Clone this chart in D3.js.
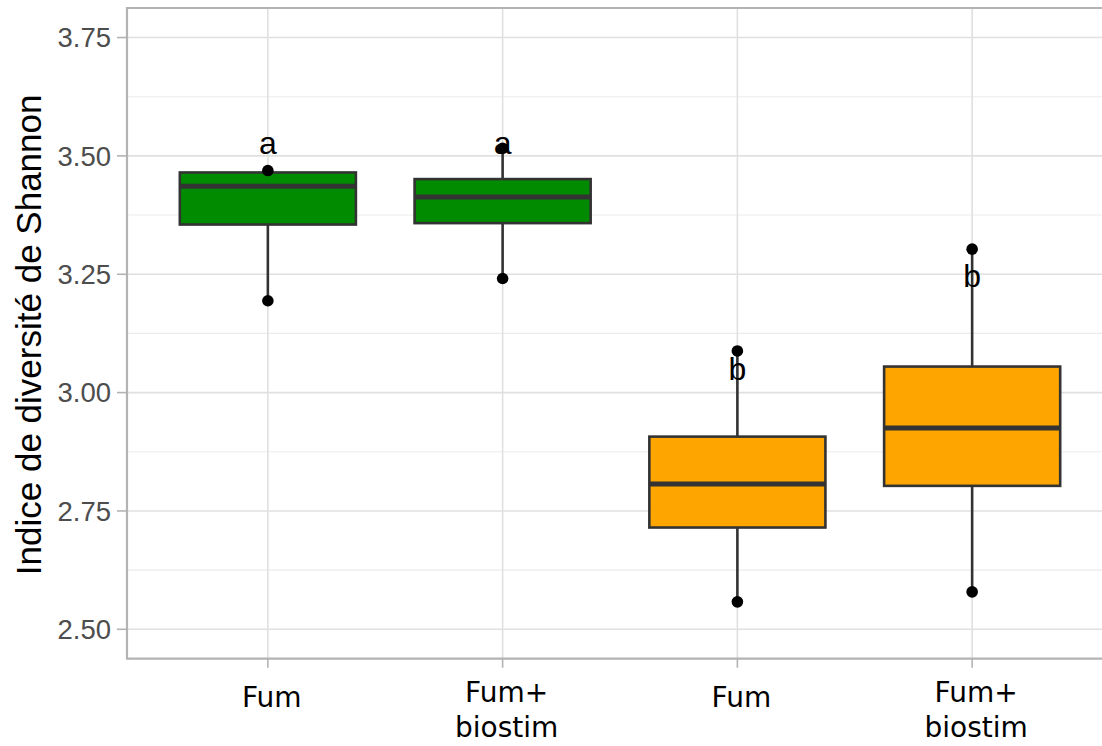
<!DOCTYPE html>
<html>
<head>
<meta charset="utf-8">
<script src="https://cdn.jsdelivr.net/npm/d3@7"></script>
<style>
  html, body { margin: 0; padding: 0; background: #fff; }
  svg { display: block; }
</style>
</head>
<body>
<svg id="chart" width="1102" height="746"></svg>
<script>
// ---- data ----
const categories = ["Fum", "Fum+\nbiostim", "Fum", "Fum+\nbiostim"];
const fills = ["#008B00", "#008B00", "#FFA500", "#FFA500"];
const minVals = [3.194, 3.241, 2.558, 2.579];
const q1Vals = [3.355, 3.358, 2.715, 2.803];
const medianVals = [3.436, 3.413, 2.807, 2.925];
const q3Vals = [3.465, 3.451, 2.907, 3.055];
const maxVals = [3.469, 3.516, 3.088, 3.303];
const letters = ["a", "a", "b", "b"];
const letterY = [3.504, 3.504, 3.027, 3.224];
const yTicks = [2.50, 2.75, 3.00, 3.25, 3.50, 3.75];
const yMinor = [2.625, 2.875, 3.125, 3.375, 3.625];
const yTitle = "Indice de diversité de Shannon";

// ---- layout ----
const svg = d3.select("#chart");
const panel = { left: 127, right: 1113, top: 8, bottom: 658.7 };
const idx = categories.map((_, i) => i);

const x = d3.scaleBand().domain(idx).range([panel.left, panel.right])
  .paddingInner(0).paddingOuter(0.1);
const y = d3.scaleLinear().domain([2.4379, 3.8124]).range([panel.bottom, panel.top]);
const cx = i => x(i) + x.bandwidth() / 2;
const boxW = x.bandwidth() * 0.75;

// gridlines
const grid = svg.append("g");
grid.selectAll("line.minor").data(yMinor).join("line")
  .attr("x1", panel.left).attr("x2", panel.right)
  .attr("y1", d => y(d)).attr("y2", d => y(d))
  .attr("stroke", "#ebebeb").attr("stroke-width", 1.1);
grid.selectAll("line.major").data(yTicks).join("line")
  .attr("x1", panel.left).attr("x2", panel.right)
  .attr("y1", d => y(d)).attr("y2", d => y(d))
  .attr("stroke", "#e0e0e0").attr("stroke-width", 1.6);
grid.selectAll("line.vx").data(idx).join("line")
  .attr("x1", d => cx(d)).attr("x2", d => cx(d))
  .attr("y1", panel.top).attr("y2", panel.bottom)
  .attr("stroke", "#e0e0e0").attr("stroke-width", 1.6);

// panel border (top, left, bottom)
const border = "#b3b3b3";
svg.append("path")
  .attr("d", `M${panel.right},${panel.top}H${panel.left}V${panel.bottom}H${panel.right}`)
  .attr("fill", "none").attr("stroke", border).attr("stroke-width", 2.2);

// y axis ticks & labels
const yAxis = svg.append("g");
yAxis.selectAll("line").data(yTicks).join("line")
  .attr("x1", panel.left - 10).attr("x2", panel.left)
  .attr("y1", d => y(d)).attr("y2", d => y(d))
  .attr("stroke", border).attr("stroke-width", 1.6);
yAxis.selectAll("text").data(yTicks).join("text")
  .attr("x", panel.left - 16).attr("y", d => y(d))
  .attr("dy", "0.36em")
  .attr("text-anchor", "end")
  .attr("font-family", "Liberation Sans, Arial, sans-serif")
  .attr("font-size", 27.5).attr("fill", "#4d4d4d")
  .text(d => d3.format(".2f")(d));

// x axis ticks & labels
const xAxis = svg.append("g");
xAxis.selectAll("line").data(idx).join("line")
  .attr("x1", d => cx(d)).attr("x2", d => cx(d))
  .attr("y1", panel.bottom).attr("y2", panel.bottom + 9)
  .attr("stroke", border).attr("stroke-width", 1.6);
xAxis.selectAll("text").data(idx).join("text")
  .attr("text-anchor", "middle")
  .attr("font-family", "DejaVu Sans, Verdana, sans-serif")
  .attr("font-size", 28).attr("fill", "#000")
  .each(function(d) {
    const lines = categories[d].split("\n");
    const t = d3.select(this);
    const y0 = lines.length === 1 ? 707 : 702;
    lines.forEach((ln, k) => {
      t.append("tspan").attr("x", cx(d) + 4).attr("y", y0 + k * 35).text(ln);
    });
  });

// y title
svg.append("text")
  .attr("transform", `translate(41,${(91.7 + 578) / 2}) rotate(-90)`)
  .attr("text-anchor", "middle")
  .attr("font-family", "Liberation Sans, Arial, sans-serif")
  .attr("font-size", 35).attr("fill", "#000")
  .text(yTitle);

// boxes
const stroke = "#333333";
const boxes = svg.append("g");
idx.forEach(i => {
  const g = boxes.append("g");
  g.append("line").attr("x1", cx(i)).attr("x2", cx(i))
    .attr("y1", y(q3Vals[i])).attr("y2", y(maxVals[i]))
    .attr("stroke", stroke).attr("stroke-width", 2.6);
  g.append("line").attr("x1", cx(i)).attr("x2", cx(i))
    .attr("y1", y(q1Vals[i])).attr("y2", y(minVals[i]))
    .attr("stroke", stroke).attr("stroke-width", 2.6);
  g.append("rect")
    .attr("x", cx(i) - boxW / 2).attr("width", boxW)
    .attr("y", y(q3Vals[i])).attr("height", y(q1Vals[i]) - y(q3Vals[i]))
    .attr("fill", fills[i]).attr("stroke", stroke).attr("stroke-width", 2.6);
  g.append("line")
    .attr("x1", cx(i) - boxW / 2).attr("x2", cx(i) + boxW / 2)
    .attr("y1", y(medianVals[i])).attr("y2", y(medianVals[i]))
    .attr("stroke", stroke).attr("stroke-width", 5);
});

// points at extremes
const pts = [];
idx.forEach(i => { pts.push([i, minVals[i]]); pts.push([i, maxVals[i]]); });
svg.append("g").selectAll("circle").data(pts).join("circle")
  .attr("cx", d => cx(d[0])).attr("cy", d => y(d[1]))
  .attr("r", 5.8).attr("fill", "#000");

// significance letters
svg.append("g").selectAll("text").data(idx).join("text")
  .attr("x", d => cx(d)).attr("y", d => y(letterY[d]))
  .attr("text-anchor", "middle")
  .attr("font-family", "Liberation Sans, Arial, sans-serif")
  .attr("font-size", 32).attr("fill", "#000")
  .text(d => letters[d]);
</script>
</body>
</html>
